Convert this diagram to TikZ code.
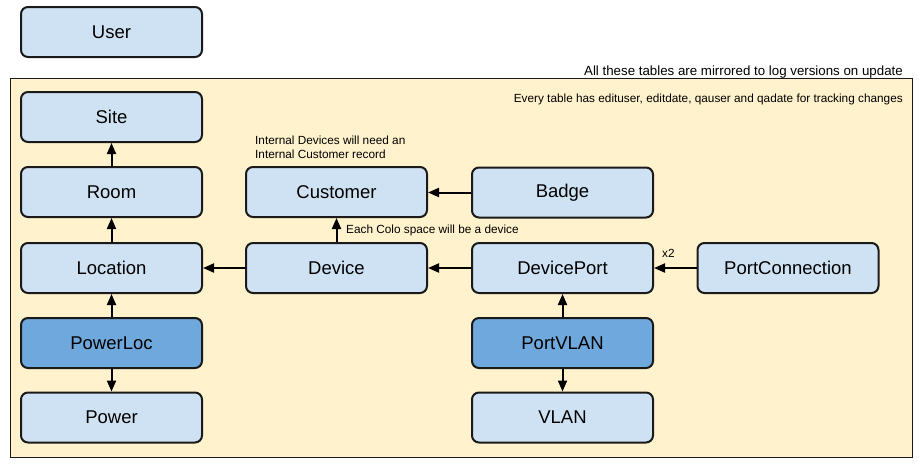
\documentclass[tikz,border=0pt]{standalone}
\usepackage{fontspec}
\setmainfont{Liberation Sans}
\usetikzlibrary{arrows.meta}
\definecolor{lightbox}{HTML}{CFE2F3}
\definecolor{darkbox}{HTML}{6FA8DC}
\definecolor{panel}{HTML}{FFF2CC}
\definecolor{edge}{HTML}{1A1A1A}
\tikzset{
  tbl/.style={draw=edge, line width=2pt, fill=lightbox, rounded corners=7pt,
    minimum width=181pt, minimum height=50pt, inner sep=0pt,
    font=\fontsize{18.5}{22}\selectfont},
  tbldark/.style={tbl, fill=darkbox},
  link/.style={draw=black, line width=2pt, -{Triangle[length=11pt,width=9pt]}},
  note/.style={font=\fontsize{11.8}{13.6}\selectfont, inner sep=0pt, text=black},
  bignote/.style={note, font=\fontsize{13.3}{15}\selectfont},
}
\begin{document}
\begin{tikzpicture}[x=1pt,y=-1pt]
\useasboundingbox (0,0) rectangle (921,469);
\fill[white] (0,0) rectangle (921,469);
\draw[draw=edge, line width=1.6pt, fill=panel] (10.5,78.5) rectangle (912.5,457.5);

\node[tbl] (user) at (111.5,32) {User};
\node[tbl] (site) at (111.5,117) {Site};
\node[tbl] (room) at (111.5,192) {Room};
\node[tbl] (location) at (111.5,268) {Location};
\node[tbldark] (powerloc) at (111.5,343) {PowerLoc};
\node[tbl] (power) at (111.5,417.5) {Power};
\node[tbl] (customer) at (336.5,192) {Customer};
\node[tbl] (badge) at (562.5,192.5) {Badge};
\node[tbl] (device) at (336.5,268) {Device};
\node[tbl] (deviceport) at (562.5,268) {DevicePort};
\node[tbl] (portconn) at (788,268) {PortConnection};
\node[tbldark] (portvlan) at (562.5,343) {PortVLAN};
\node[tbl] (vlan) at (562.5,417.5) {VLAN};

\draw[link] (room) -- (site);
\draw[link] (location) -- (room);
\draw[link] (powerloc) -- (location);
\draw[link] (powerloc) -- (power);
\draw[link] (device) -- (location);
\draw[link] (device) -- (customer);
\draw[link] (badge.west) -- (customer.east |- badge.west);
\draw[link] (deviceport) -- (device);
\draw[link] (portconn) -- (deviceport);
\draw[link] (portvlan) -- (deviceport);
\draw[link] (portvlan) -- (vlan);

\node[bignote, anchor=base east] (mirror) at (903,75) {All these tables are mirrored to log versions on update};
\node[note, anchor=base east] (tracking) at (903,102) {Every table has edituser, editdate, qauser and qadate for tracking changes};
\node[note, anchor=north west, align=left] (internal) at (255,136) {Internal Devices will need an\\Internal Customer record};
\node[note, anchor=base west] (colo) at (346,233) {Each Colo space will be a device};
\node[note, anchor=base west] (x2) at (662,257) {x2};
\end{tikzpicture}
\end{document}
